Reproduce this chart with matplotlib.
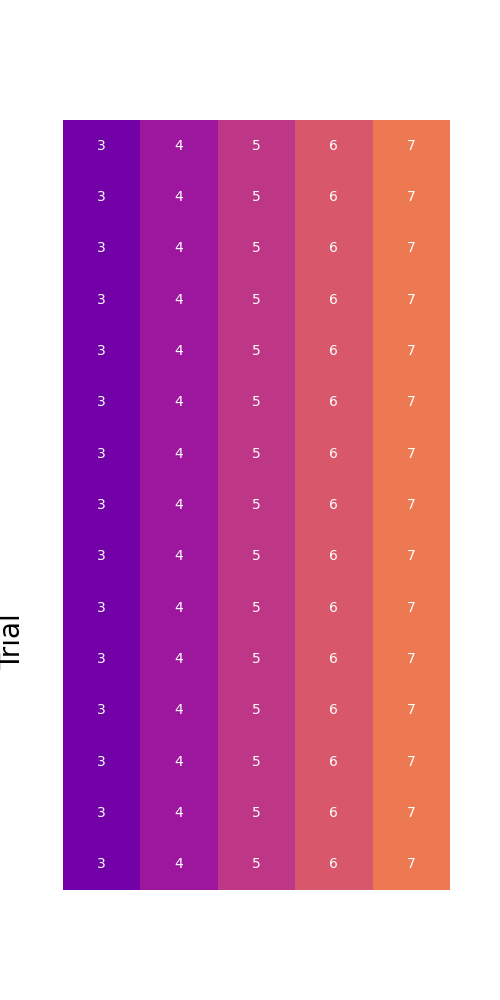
import matplotlib
matplotlib.use("Agg")
import matplotlib.pyplot as plt
import numpy as np
import seaborn as sns

n_trials = 15
columns = [3, 4, 5, 6, 7]
values = np.array([columns for _ in range(n_trials)])

fig, ax = plt.subplots(figsize=(5, 10), dpi=100)
sns.heatmap(values, ax=ax, cmap="plasma", vmin=1, vmax=10, annot=True, fmt="d",
            cbar=False, xticklabels=False, yticklabels=False,
            annot_kws={"color": "white", "fontsize": 10})
ax.set_ylabel("Trial", fontsize=20)
ax.yaxis.set_label_coords(-0.093, 0.322)
fig.savefig("out.png")
